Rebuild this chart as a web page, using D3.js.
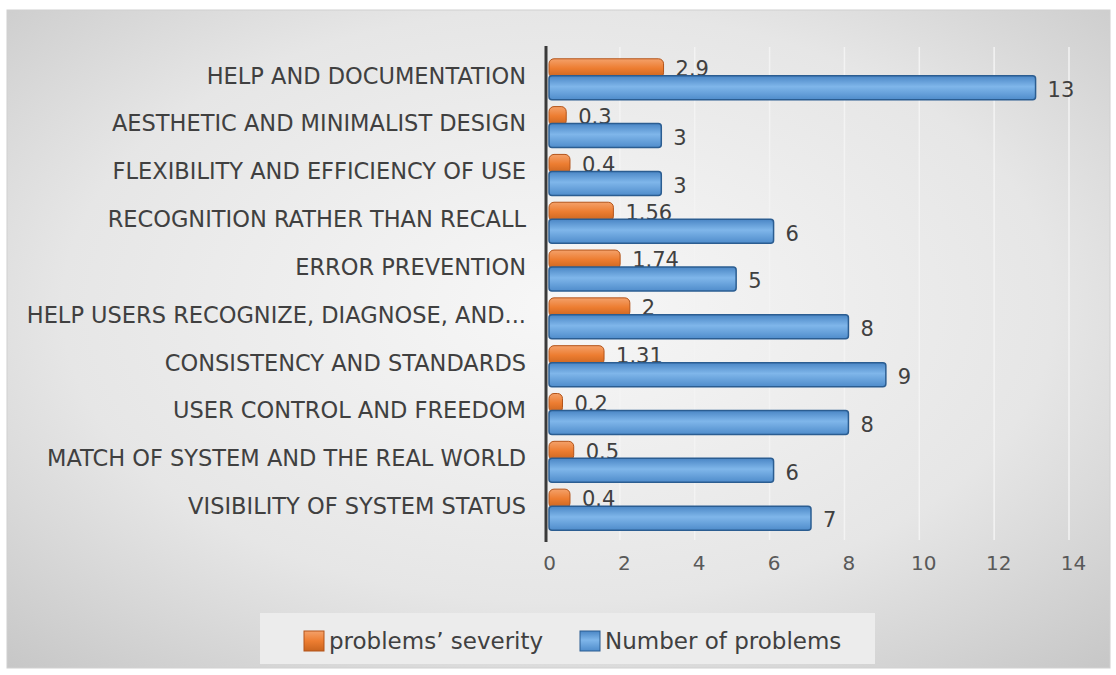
<!DOCTYPE html>
<html><head><meta charset="utf-8">
<script src="https://cdn.jsdelivr.net/npm/d3@7"></script>
<style>html,body{margin:0;padding:0;background:#fff;}svg{display:block;}</style>
</head><body>
<svg id="chart" width="1116" height="675"></svg>
<script>
const categories = ["HELP AND DOCUMENTATION","AESTHETIC AND MINIMALIST DESIGN","FLEXIBILITY AND EFFICIENCY OF USE","RECOGNITION RATHER THAN RECALL","ERROR PREVENTION","HELP USERS RECOGNIZE, DIAGNOSE, AND...","CONSISTENCY AND STANDARDS","USER CONTROL AND FREEDOM","MATCH OF SYSTEM AND THE REAL WORLD","VISIBILITY OF SYSTEM STATUS"];
const severity = [2.9,0.3,0.4,1.56,1.74,2,1.31,0.2,0.5,0.4];
const numberOfProblems = [13,3,3,6,5,8,9,8,6,7];
const xTicks = [0,2,4,6,8,10,12,14];
const seriesNames = ["problems\u2019 severity","Number of problems"];

const svg = d3.select("#chart");
const defs = svg.append("defs");
const bg = defs.append("radialGradient").attr("id","bg").attr("cx","50%").attr("cy","45%").attr("r","75%");
bg.append("stop").attr("offset","0%").attr("stop-color","#f7f7f7");
bg.append("stop").attr("offset","60%").attr("stop-color","#e6e6e6");
bg.append("stop").attr("offset","100%").attr("stop-color","#c6c6c6");
const og = defs.append("linearGradient").attr("id","og").attr("x1",0).attr("y1",0).attr("x2",0).attr("y2",1);
og.append("stop").attr("offset","0%").attr("stop-color","#f4a16a");
og.append("stop").attr("offset","50%").attr("stop-color","#ed7d31");
og.append("stop").attr("offset","100%").attr("stop-color","#c9641f");
const bgr = defs.append("linearGradient").attr("id","bgr").attr("x1",0).attr("y1",0).attr("x2",0).attr("y2",1);
bgr.append("stop").attr("offset","0%").attr("stop-color","#4a86c5");
bgr.append("stop").attr("offset","45%").attr("stop-color","#7fb6ea");
bgr.append("stop").attr("offset","100%").attr("stop-color","#4f8ccb");

svg.append("rect").attr("x",7).attr("y",10).attr("width",1103).attr("height",658)
  .attr("fill","url(#bg)").attr("stroke","#d0d0d0");

const font = "'DejaVu Sans',sans-serif";
const x = d3.scaleLinear().domain([0,14]).range([549,1073]);
const y = d3.scaleBand().domain(categories).range([54,536]).paddingInner(0.12).paddingOuter(0.1);

// gridlines
svg.append("g").selectAll("line").data(xTicks.slice(1)).join("line")
  .attr("x1",d=>x(d)-4).attr("x2",d=>x(d)-4).attr("y1",47).attr("y2",540)
  .attr("stroke","#f3f3f3").attr("stroke-width",1.5);

// axis ticks
const xAxis = d3.axisBottom(x).tickValues(xTicks).tickSize(0).tickPadding(0);
const ax = svg.append("g").attr("transform","translate(0,556)").call(xAxis);
ax.select(".domain").remove();
ax.selectAll("text").attr("font-family",font).attr("font-size",20).attr("fill","#595959").attr("dy","0.71em");

// orange bars
const rows = categories.map((c,i)=>({c, s:severity[i], n:numberOfProblems[i]}));
svg.append("g").selectAll("rect").data(rows).join("rect")
  .attr("x",x(0)).attr("y",d=>y(d.c)).attr("width",d=>x(d.s)-x(0)+6).attr("height",19)
  .attr("rx",5).attr("fill","url(#og)").attr("stroke","#b3541a").attr("stroke-width",1);
// orange labels
svg.append("g").selectAll("text").data(rows).join("text")
  .attr("x",d=>x(d.s)+18).attr("y",d=>y(d.c)+10).attr("dy","0.35em")
  .attr("font-family",font).attr("font-size",21).attr("fill","#404040").text(d=>d.s);
// blue bars
svg.append("g").selectAll("rect").data(rows).join("rect")
  .attr("x",x(0)).attr("y",d=>y(d.c)+17).attr("width",d=>x(d.n)-x(0)).attr("height",24)
  .attr("rx",3).attr("fill","url(#bgr)").attr("stroke","#2b5d91").attr("stroke-width",1.5);
svg.append("g").selectAll("text").data(rows).join("text")
  .attr("x",d=>x(d.n)+12).attr("y",d=>y(d.c)+31).attr("dy","0.35em")
  .attr("font-family",font).attr("font-size",21).attr("fill","#404040").text(d=>d.n);

// axis line
svg.append("line").attr("x1",546).attr("x2",546).attr("y1",46).attr("y2",542)
  .attr("stroke","#3a3a3a").attr("stroke-width",3);

// category labels
svg.append("g").selectAll("text").data(categories).join("text")
  .attr("x",526).attr("y",d=>y(d)+17).attr("dy","0.35em").attr("text-anchor","end")
  .attr("font-family",font).attr("font-size",22.5).attr("fill","#404040").text(d=>d);

// legend
svg.append("rect").attr("x",260).attr("y",613).attr("width",615).attr("height",51)
  .attr("fill","#ececec").attr("stroke","none");
const lg = svg.append("g");
const colors = ["url(#og)","url(#bgr)"], strokes=["#b3541a","#2b5d91"], lx=[304,580];
seriesNames.forEach((s,i)=>{
  lg.append("rect").attr("x",lx[i]).attr("y",631).attr("width",20).attr("height",20)
    .attr("fill",colors[i]).attr("stroke",strokes[i]);
  lg.append("text").attr("x",lx[i]+25).attr("y",641).attr("dy","0.35em")
    .attr("font-family",font).attr("font-size",23).attr("fill","#404040").text(s);
});
</script>
</body></html>
